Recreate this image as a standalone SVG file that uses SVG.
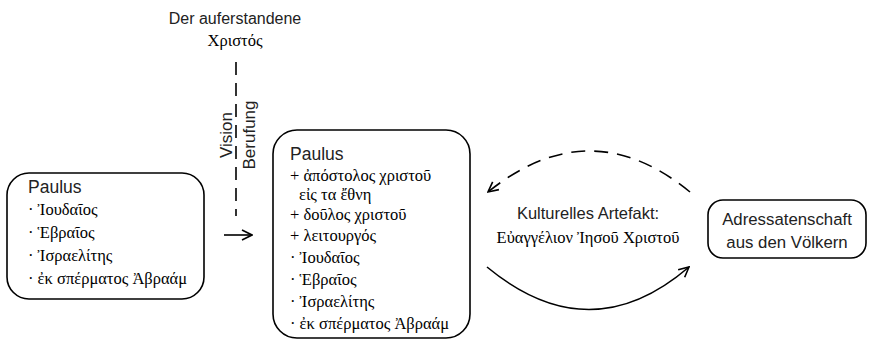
<svg xmlns="http://www.w3.org/2000/svg" width="869" height="340" viewBox="0 0 869 340">
<style>
.box{fill:#fff;stroke:#000;stroke-width:1.6}
.sans{font-family:"Liberation Sans","Roboto",sans-serif;fill:#222}
.gr{font-family:"Liberation Serif","DejaVu Serif",serif;fill:#000;font-size:16.5px}
.ln{fill:none;stroke:#000;stroke-width:1.6}
</style>
<defs>
<marker id="ah" viewBox="0 0 12 12" refX="11" refY="6" markerWidth="12" markerHeight="12" markerUnits="userSpaceOnUse" orient="auto">
<path d="M1,1 L11,6 L1,11" fill="none" stroke="#000" stroke-width="1.6"/>
</marker>
</defs>
<g id="top-label">
<text class="sans" x="235" y="24" font-size="16" text-anchor="middle">Der auferstandene</text>
<text class="gr" x="235" y="46" text-anchor="middle" font-size="17">Χριστός</text>
</g>
<g id="connectors">
<line class="ln" x1="236" y1="62" x2="236" y2="216" stroke-dasharray="13 8"/>
<line class="ln" x1="224" y1="235" x2="252" y2="235" marker-end="url(#ah)"/>
<path class="ln" d="M690,192 Q590,110 488,192" stroke-dasharray="14 9" marker-end="url(#ah)"/>
<path class="ln" d="M487,267 Q590,352 689,267" marker-end="url(#ah)"/>
</g>
<g id="vision-label">
<text class="sans" font-size="17" text-anchor="middle" transform="translate(232,135) rotate(-90)">Vision</text>
<text class="sans" font-size="17" text-anchor="middle" transform="translate(255,135) rotate(-90)">Berufung</text>
</g>
<g id="paulus-left">
<rect class="box" x="7" y="173" width="197" height="126" rx="22"/>
<text class="sans" x="28" y="193" font-size="17.5">Paulus</text>
<text class="gr" x="28" y="215">· Ἰουδαῖος</text>
<text class="gr" x="28" y="238">· Ἑβραῖος</text>
<text class="gr" x="28" y="261">· Ἰσραελίτης</text>
<text class="gr" x="28" y="284">· ἐκ σπέρματος Ἀβραάμ</text>
</g>
<g id="paulus-mid">
<rect class="box" x="273" y="130" width="197" height="208" rx="24"/>
<text class="sans" x="290" y="160" font-size="17.5">Paulus</text>
<text class="gr" x="290" y="181">+ ἀπόστολος χριστοῦ</text>
<text class="gr" x="299" y="200">εἰς τα ἔθνη</text>
<text class="gr" x="290" y="220">+ δοῦλος χριστοῦ</text>
<text class="gr" x="290" y="241">+ λειτουργός</text>
<text class="gr" x="290" y="263">· Ἰουδαῖος</text>
<text class="gr" x="290" y="285">· Ἑβραῖος</text>
<text class="gr" x="290" y="307">· Ἰσραελίτης</text>
<text class="gr" x="290" y="329">· ἐκ σπέρματος Ἀβραάμ</text>
</g>
<g id="artefakt-label">
<text class="sans" x="588" y="219" font-size="16.5" text-anchor="middle">Kulturelles Artefakt:</text>
<text class="gr" x="588" y="243" text-anchor="middle" font-size="16">Εὐαγγέλιον Ἰησοῦ Χριστοῦ</text>
</g>
<g id="adressaten">
<rect class="box" x="708" y="200" width="158" height="58" rx="15"/>
<text class="sans" x="787" y="225" font-size="16.8" text-anchor="middle">Adressatenschaft</text>
<text class="sans" x="787" y="248" font-size="16.8" text-anchor="middle">aus den Völkern</text>
</g>
</svg>
